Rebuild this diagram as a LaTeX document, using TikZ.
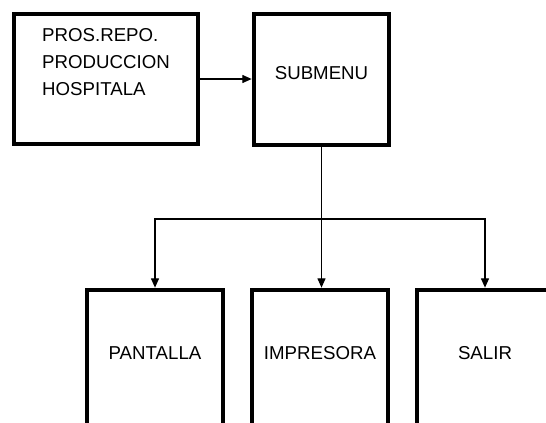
\documentclass[tikz,border=0pt]{standalone}
\usepackage{fontspec}
\setmainfont{Liberation Sans}
\usetikzlibrary{arrows.meta}

\begin{document}
\begin{tikzpicture}[x=0.75pt, y=-0.75pt, >={Triangle[length=7pt, width=6pt]},
        menubox/.style={draw, line width=3.5pt, fill=white, minimum width=102pt, minimum height=102pt, text height=10pt, font=\fontsize{14}{20.25}\selectfont},
        link/.style={line width=0.9pt}]
        \useasboundingbox (0,0) rectangle (546,422);
        \clip (0,0) rectangle (546,422);
        \def\Px{155} \def\Ix{320} \def\Sx{485} \def\By{358}
        \node[menubox, minimum width=138pt, minimum height=97.5pt, align=left, text height=50.5pt, text depth=26.3pt] (prog) at (106,79) {PROS.REPO.\\PRODUCCION\\HOSPITALA};
        \node[menubox, minimum width=101.25pt, minimum height=98.25pt, text depth=9.75pt] (sub) at (321.5,79.5) {SUBMENU};
        \node[menubox, text depth=7.5pt] (pan) at (\Px,\By) {PANTALLA};
        \node[menubox, text depth=7.5pt] (imp) at (\Ix,\By) {IMPRESORA};
        \node[menubox, text depth=7.5pt] (sal) at (\Sx,\By) {SALIR};

        \coordinate (split) at (321.5,219);
        \draw[link, ->] (prog.east) -- (prog.east -| sub.west);
        \draw[link] (sub.south) -- (split);
        \draw[link, ->] (split) -| (pan.north);
        \draw[link, ->] (split) -- (split |- imp.north);
        \draw[link, ->] (split) -| (sal.north);
    \end{tikzpicture}
\end{document}
